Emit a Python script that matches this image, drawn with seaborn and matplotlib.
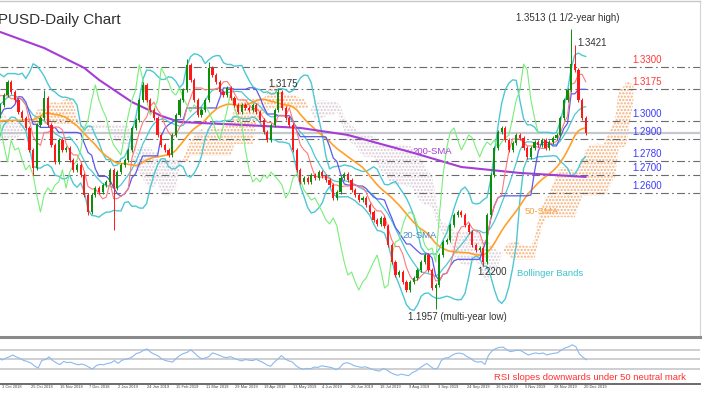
import numpy as np
import pandas as pd
import matplotlib
matplotlib.use("Agg")
import matplotlib.pyplot as plt
import seaborn as sns

sns.set_style("white")
plt.rcParams['font.family'] = ['Liberation Sans', 'DejaVu Sans']
plt.rcParams['hatch.linewidth'] = 1.1

# two-day bars; Jun-Sep 2018 sits left of the frame and only feeds the indicators
close_pre = [1.3400, 1.3420, 1.3360, 1.3310, 1.3280, 1.3230, 1.3180, 1.3260, 1.3200, 1.3150,
             1.3210, 1.3230, 1.3250, 1.3220, 1.3160, 1.3100, 1.3120, 1.3180, 1.3130, 1.3100,
             1.3060, 1.3000, 1.2900, 1.2810, 1.2760, 1.2720, 1.2750, 1.2810, 1.2880, 1.2970,
             1.2890, 1.2930, 1.3020, 1.3050, 1.3130, 1.3180, 1.3100, 1.3250, 1.3120, 1.3030]
close_q4_2018 = [1.3089, 1.3144, 1.3216, 1.3161, 1.3116, 1.3050, 1.3016, 1.2961, 1.2839, 1.2739,
                 1.2978, 1.3016, 1.3128, 1.2978, 1.2866, 1.2772, 1.2894, 1.2839, 1.2850, 1.2783,
                 1.2728, 1.2755, 1.2700, 1.2589, 1.2494, 1.2589, 1.2628, 1.2605, 1.2644, 1.2661,
                 1.2728, 1.2628]
close_q1_2019 = [1.2716, 1.2755, 1.2783, 1.2839, 1.2961, 1.3005, 1.3116, 1.3200, 1.3116, 1.3061,
                 1.3016, 1.2922, 1.2866, 1.2839, 1.2811, 1.2922, 1.3033, 1.3116, 1.3172, 1.3311,
                 1.3228, 1.3116, 1.3033, 1.3061, 1.3116, 1.3294, 1.3255, 1.3216, 1.3161, 1.3144,
                 1.3183, 1.3128]
close_q2_2019 = [1.3089, 1.3050, 1.3089, 1.3072, 1.3061, 1.3089, 1.3050, 1.3005, 1.2939, 1.2894,
                 1.2978, 1.3061, 1.3161, 1.3072, 1.3016, 1.2978, 1.2839, 1.2728, 1.2661, 1.2683,
                 1.2661, 1.2700, 1.2683, 1.2716, 1.2694, 1.2672, 1.2644, 1.2572, 1.2605, 1.2683,
                 1.2705, 1.2672]
close_q3_2019 = [1.2616, 1.2589, 1.2561, 1.2572, 1.2533, 1.2494, 1.2450, 1.2428, 1.2461, 1.2416,
                 1.2311, 1.2216, 1.2144, 1.2161, 1.2105, 1.2061, 1.2105, 1.2128, 1.2172, 1.2216,
                 1.2255, 1.2172, 1.2072, 1.2089, 1.2255, 1.2328, 1.2339, 1.2422, 1.2478, 1.2494,
                 1.2478, 1.2422]
close_q4_2019 = [1.2383, 1.2311, 1.2283, 1.2294, 1.2216, 1.2478, 1.2700, 1.2850, 1.2939, 1.2961,
                 1.2894, 1.2839, 1.2878, 1.2922, 1.2905, 1.2850, 1.2800, 1.2850, 1.2883, 1.2866,
                 1.2894, 1.2850, 1.2883, 1.2905, 1.2922, 1.3016, 1.3116, 1.3172, 1.3316, 1.3283,
                 1.3116, 1.3016, 1.2933]

# bars with long wicks
spike_hi_bar = [12, 39, 51, 57, 76, 156, 157]
spike_hi = [1.3172, 1.3215, 1.3345, 1.3330, 1.3176, 1.3513, 1.3421]
spike_lo_bar = [9, 24, 31, 119, 132]
spike_lo = [1.2700, 1.2478, 1.2397, 1.1957, 1.2195]

# 200-day SMA
sma200_bar = [0, 12, 23, 27, 36, 44, 49, 66, 82, 95, 113, 126, 142, 160]
sma200 = [1.3494, 1.3405, 1.3294, 1.3228, 1.3105, 1.3028, 1.2994, 1.2978, 1.2961,
          1.2922, 1.2822, 1.2744, 1.2711, 1.2689]

date_labels = ["3 Oct 2018", "25 Oct 2018", "16 Nov 2018", "7 Dec 2018", "2 Jan 2019",
               "24 Jan 2019", "15 Feb 2019", "11 Mar 2019", "29 Mar 2019", "19 Apr 2019",
               "13 May 2019", "4 Jun 2019", "26 Jun 2019", "18 Jul 2019", "9 Aug 2019",
               "3 Sep 2019", "24 Sep 2019", "16 Oct 2019", "5 Nov 2019", "28 Nov 2019",
               "20 Dec 2019"]

res_levels = [1.3300, 1.3175]
sup_levels = [1.3000, 1.2900, 1.2780, 1.2700, 1.2600]

# ---- build bars
closes = np.array(close_pre + close_q4_2018 + close_q1_2019 + close_q2_2019
                  + close_q3_2019 + close_q4_2019)
n_pre = len(close_pre)
bars = np.arange(len(closes)) - n_pre
opens = np.r_[closes[0], closes[:-1]]
highs = np.maximum(opens, closes) + 0.0012
lows = np.minimum(opens, closes) - 0.0012
for b, v in zip(spike_hi_bar, spike_hi):
    highs[b + n_pre] = max(highs[b + n_pre], v)
for b, v in zip(spike_lo_bar, spike_lo):
    lows[b + n_pre] = min(lows[b + n_pre], v)

df = pd.DataFrame({'bar': bars, 'open': opens, 'high': highs, 'low': lows, 'close': closes})
s = df['close']
df['mid'] = s.rolling(10).mean()
sd = s.rolling(10).std(ddof=0)
df['upper'] = df['mid'] + 2 * sd
df['lower'] = df['mid'] - 2 * sd
df['sma50'] = s.rolling(25).mean()
df['tenkan'] = (df['high'].rolling(5).max() + df['low'].rolling(5).min()) / 2
df['kijun'] = (df['high'].rolling(13).max() + df['low'].rolling(13).min()) / 2
df['spanA'] = (df['tenkan'] + df['kijun']) / 2
df['spanB'] = (df['high'].rolling(26).max() + df['low'].rolling(26).min()) / 2
delta = s.diff()
gain = delta.clip(lower=0).ewm(alpha=1 / 12, adjust=False).mean()
loss = (-delta.clip(upper=0)).ewm(alpha=1 / 12, adjust=False).mean()
df['rsi'] = 100 - 100 / (1 + gain / loss)

W, H = 711, 401
fig = plt.figure(figsize=(W / 100, H / 100), dpi=100)
ax = fig.add_axes([0, 1 - 337 / H, 700 / W, 336 / H])
ax_rsi = fig.add_axes([0, 1 - 384 / H, 700 / W, 47 / H])

xlim = (-0.05, 191.2)
ax.set_xlim(*xlim)
ax.set_ylim(1.1800, 1.3666)

# ichimoku cloud, shifted 13 bars ahead
cx = df['bar'] + 13
a = df['spanA'].values
b = df['spanB'].values
ok = ~np.isnan(a) & ~np.isnan(b)
ax.fill_between(cx[ok], a[ok], b[ok], where=a[ok] >= b[ok], interpolate=True,
                facecolor='none', edgecolor='#f6ae78', hatch='.....', linewidth=0, zorder=1)
ax.fill_between(cx[ok], a[ok], b[ok], where=a[ok] < b[ok], interpolate=True,
                facecolor='none', edgecolor='#dccad6', hatch='.....', linewidth=0, zorder=1)

for lv in res_levels + sup_levels:
    ax.axhline(lv, color='#6a6a6a', lw=0.8, dashes=(7, 3, 1.5, 3), zorder=2)
ax.axhline(closes[-1], color='#c6c8d0', lw=1.6, zorder=2)

sns.lineplot(x=df['bar'], y=df['upper'], ax=ax, color='#4cc8d2', lw=1.0, zorder=3)
sns.lineplot(x=df['bar'], y=df['lower'], ax=ax, color='#4cc8d2', lw=1.0, zorder=3)
sns.lineplot(x=df['bar'], y=df['mid'], ax=ax, color='#4cc8d2', lw=0.9, zorder=3)
sns.lineplot(x=df['bar'], y=df['sma50'], ax=ax, color='#ffa028', lw=1.2, zorder=3)
sns.lineplot(x=sma200_bar, y=sma200, ax=ax, color='#a43cd6', lw=1.5, zorder=3)
sns.lineplot(x=df['bar'], y=df['kijun'], ax=ax, color='#5a5af0', lw=0.9, zorder=3)
sns.lineplot(x=df['bar'], y=df['tenkan'], ax=ax, color='#ff7878', lw=0.8, zorder=3)
sns.lineplot(x=df['bar'] - 13, y=df['close'], ax=ax, color='#78ee78', lw=0.8, zorder=3)

up = df['close'] >= df['open']
col = np.where(up, '#0d8f0d', '#ff1818')
ax.vlines(df['bar'], df['low'], df['high'], colors=col, lw=0.7, zorder=4)
body = np.maximum((df['close'] - df['open']).abs(), 0.0004)
ax.bar(df['bar'], body, bottom=np.minimum(df['open'], df['close']), width=0.6,
       color=col, linewidth=0, zorder=5)

ax.set_xticks([])
ax.set_yticks([])
ax.set_xlabel('')
ax.set_ylabel('')
for side in ['left', 'bottom']:
    ax.spines[side].set_visible(False)
ax.spines['top'].set_color('#c8c8c8')
ax.spines['right'].set_color('#d4d4d4')
ax.spines['top'].set_linewidth(1.0)
ax.spines['right'].set_linewidth(0.8)

# level labels on the right
for lv in res_levels:
    ax.annotate(f"{lv:.4f}", xy=(172.6, lv), xytext=(0, 2), textcoords='offset pixels',
                color='#ff3a3a', fontsize=7, va='bottom', ha='left')
for lv in sup_levels:
    ax.annotate(f"{lv:.4f}", xy=(172.6, lv), xytext=(0, 2), textcoords='offset pixels',
                color='#3a3aff', fontsize=7, va='bottom', ha='left')


def ftxt(x, y, t, **kw):
    fig.text(x / W, 1 - y / H, t, va='center', ha='left', **kw)


ftxt(-24, 20, "GBPUSD-Daily Chart", fontsize=11, color='#303030')
ftxt(516, 18, "1.3513 (1 1/2-year high)", fontsize=7, color='#333333')
ftxt(577, 43, "1.3421", fontsize=7, color='#333333')
ftxt(268, 84, "1.3175", fontsize=7, color='#333333')
ftxt(477, 272, "1.2200", fontsize=7, color='#333333')
ftxt(408, 317, "1.1957 (multi-year low)", fontsize=7, color='#333333')
ftxt(412, 151, "200-SMA", fontsize=6.8, color='#a43cd6')
ftxt(402, 235, "20-SMA", fontsize=6.8, color='#4a86c8')
ftxt(525, 211, "50-SMA", fontsize=6.8, color='#f5a040')
ftxt(517, 274, "Bollinger Bands", fontsize=6.8, color='#3cc4cc')
ftxt(494, 377, "RSI slopes downwards under 50 neutral mark", fontsize=6.8, color='#ff3030')

# RSI panel
ax_rsi.set_xlim(*xlim)
ax_rsi.set_ylim(-1.6, 97.3)
for lv in [70, 50, 30]:
    ax_rsi.axhline(lv, color='#cfcfd2', lw=1.4, zorder=1)
sns.lineplot(x=df['bar'], y=df['rsi'], ax=ax_rsi, color='#8cb8ee', lw=0.8, zorder=2)
ax_rsi.set_yticks([])
ax_rsi.set_xlabel('')
ax_rsi.set_ylabel('')
tick_pos = [-1.5 + 8.005 * k for k in range(len(date_labels))]
ax_rsi.set_xticks(tick_pos)
ax_rsi.tick_params(axis='x', length=3, width=0.7, color='#555555', labelbottom=False,
                   direction='out')
for tp, lab in zip(tick_pos, date_labels):
    ax_rsi.annotate(lab, xy=(tp, 0), xycoords=('data', 'axes fraction'), xytext=(2, -3),
                    textcoords='offset pixels', ha='left', va='center', fontsize=2.9,
                    color='#444444', annotation_clip=False)
for side in ['left', 'right']:
    ax_rsi.spines[side].set_visible(False)
ax_rsi.spines['top'].set_color('#8a8a8a')
ax_rsi.spines['top'].set_linewidth(2.2)
ax_rsi.spines['bottom'].set_color('#606060')
ax_rsi.spines['bottom'].set_linewidth(1.3)

fig.savefig("out.png", dpi=100)
